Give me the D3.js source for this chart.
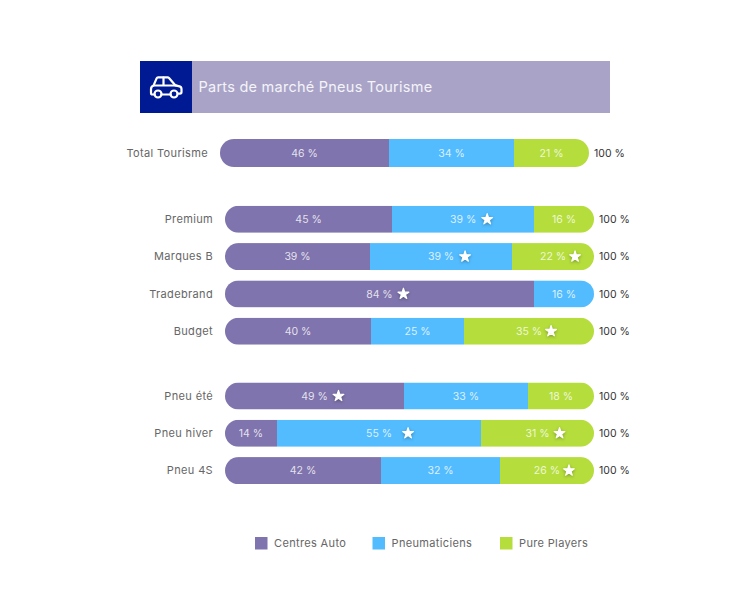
<!DOCTYPE html>
<html>
<head>
<meta charset="utf-8">
<script src="https://cdn.jsdelivr.net/npm/d3@7"></script>
<style>
  body { margin: 0; background: #fff; }
  svg { display: block; }
  text { font-family: Inter, "Open Sans", sans-serif; }
  .star { filter: drop-shadow(0 1px 1.5px rgba(0,0,0,.3)); }
</style>
</head>
<body>
<svg class="chart" width="729" height="590"></svg>
<script>
// values
var titleText = "Parts de marché Pneus Tourisme"
var seriesNames = ["Centres Auto", "Pneumaticiens", "Pure Players"]
var seriesColors = ["#7f74ad", "#52bcff", "#b5dd3c"]

var categories = ["Total Tourisme", "Premium", "Marques B", "Tradebrand", "Budget", "Pneu été", "Pneu hiver", "Pneu 4S"]
var groupOf = [0, 1, 1, 1, 1, 2, 2, 2]

// segment widths as drawn
var centresAuto = [45.8, 45.3, 39.3, 83.7, 39.6, 48.5, 14.1, 42.3]
var pneumaticiens = [33.9, 38.5, 38.5, 16.3, 25.2, 33.6, 55.3, 32.2]
var purePlayers = [20.3, 16.2, 22.2, 0, 35.2, 17.9, 30.6, 25.5]

// printed labels, they do not always round the same way as the widths
var centresLabels = ["46 %", "45 %", "39 %", "84 %", "40 %", "49 %", "14 %", "42 %"]
var pneuLabels = ["34 %", "39 %", "39 %", "16 %", "25 %", "33 %", "55 %", "32 %"]
var pureLabels = ["21 %", "16 %", "22 %", "", "35 %", "18 %", "31 %", "26 %"]
var totalLabels = ["100 %", "100 %", "100 %", "100 %", "100 %", "100 %", "100 %", "100 %"]

// which segments carry a star
var centresStars = ["Tradebrand", "Pneu été"]
var pneuStars = ["Premium", "Marques B", "Pneu hiver"]
var pureStars = ["Marques B", "Budget", "Pneu hiver", "Pneu 4S"]

var svg = d3.select(".chart")

var x = d3.scaleLinear().domain([0, 100]).range([225, 594])
var groupY = d3.scaleOrdinal().domain([0, 1, 2]).range([153, 219.3, 396])
var rowStep = 37.3
var barH = 27

var rows = categories.map((name, i) => {
    var vals = [centresAuto[i], pneumaticiens[i], purePlayers[i]]
    return {
        name: name,
        index: i,
        shift: groupOf[i] == 0 ? -5 : 0, // total row sits a bit more to the left
        h: groupOf[i] == 0 ? barH + 1 : barH,
        cy: groupY(groupOf[i]) + categories.slice(0, i).filter((c, j) => groupOf[j] == groupOf[i]).length * rowStep,
        vals: vals,
        total: totalLabels[i],
        labels: [centresLabels[i], pneuLabels[i], pureLabels[i]],
        stars: [centresStars, pneuStars, pureStars].map(s => s.includes(name))
    }
})

drawHeader()
drawRows()
drawLegend()

function drawHeader() {
    var head = svg.append("g")
    head.append("rect").attr("x", 140).attr("y", 61).attr("width", 470).attr("height", 52).attr("fill", "#a9a4c7")
    head.append("rect").attr("x", 140).attr("y", 61).attr("width", 52).attr("height", 52).attr("fill", "#001a94")
    head.append("text")
        .attr("x", 198.5).attr("y", 92)
        .attr("font-size", 14.5)
        .attr("letter-spacing", 0.25)
        .attr("fill", "#f4f3f9")
        .text(titleText)

    // car icon
    var car = head.append("g")
        .attr("fill", "none").attr("stroke", "#fff").attr("stroke-width", 2.2)
        .attr("stroke-linejoin", "round").attr("stroke-linecap", "round")
    car.append("path").attr("d", "M154.5 94.5h-2c-1 0-1.5-.7-1.5-1.5v-4c0-2 1.2-3 2.6-3.6l3-7c.3-.7.8-1 1.5-1h9.5c.6 0 1 .2 1.4.6l6.5 7.4 4 1c1.3.4 2 1.3 2 2.7v3c0 .9-.6 1.5-1.5 1.5h-1.5")
    car.append("path").attr("d", "M161.5 94.5h9M154 85.5h22.5M163.5 77.5v8")
    car.append("circle").attr("cx", 158).attr("cy", 94).attr("r", 3.5)
    car.append("circle").attr("cx", 174).attr("cy", 94).attr("r", 3.5)
}

function drawRows() {
    var defs = svg.append("defs")

    rows.forEach(r => {
        defs.append("clipPath").attr("id", "clip" + r.index)
            .append("rect")
            .attr("x", x(0) + r.shift)
            .attr("y", r.cy - r.h / 2)
            .attr("width", x(100) - x(0))
            .attr("height", r.h)
            .attr("rx", r.h / 2)
    })

    var row = svg.selectAll(".row")
        .data(rows)
        .enter()
        .append("g")
        .attr("class", "row")

    // category name
    row.append("text")
        .attr("x", d => x(0) + d.shift - 12)
        .attr("y", d => d.cy)
        .attr("dy", "0.35em")
        .attr("text-anchor", "end")
        .attr("font-size", 11)
        .attr("letter-spacing", 0.35)
        .attr("fill", "#666")
        .text(d => d.name)

    // 100 %
    row.append("text")
        .attr("x", d => x(100) + d.shift + 5)
        .attr("y", d => d.cy)
        .attr("dy", "0.35em")
        .attr("font-size", 10.5)
        .attr("fill", "#333")
        .text(d => d.total)

    row.each(function (d) {
        var g = d3.select(this)
        var start = 0
        var segs = d.vals.map((v, k) => {
            var s = { row: d, k: k, from: start, to: start + v, label: d.labels[k], star: d.stars[k] }
            start += v
            return s
        }).filter(s => s.to > s.from)

        g.append("g")
            .attr("clip-path", "url(#clip" + d.index + ")")
            .selectAll("rect")
            .data(segs)
            .enter()
            .append("rect")
            .attr("x", s => Math.round(x(s.from)) + d.shift)
            .attr("y", d.cy - d.h / 2)
            .attr("width", s => Math.round(x(s.to)) - Math.round(x(s.from)))
            .attr("height", d.h)
            .attr("fill", s => seriesColors[s.k])

        g.selectAll(".val")
            .data(segs)
            .enter()
            .append("text")
            .attr("class", "val")
            .attr("x", s => (x(s.from) + x(s.to)) / 2 + d.shift)
            .attr("y", d.cy)
            .attr("dy", "0.35em")
            .attr("text-anchor", "middle")
            .attr("font-size", 10.5)
            .attr("fill", "#fff")
            .attr("fill-opacity", 0.8)
            .text(s => s.label)

        g.selectAll(".star")
            .data(segs.filter(s => s.star))
            .enter()
            .append("path")
            .attr("class", "star")
            .attr("d", d3.symbol(d3.symbolStar, 36))
            .attr("transform", s => `translate(${(x(s.from) + x(s.to)) / 2 + d.shift + starOffset(s)}, ${d.cy})`)
            .attr("fill", "#fff")
            .attr("stroke", "#fff")
            .attr("stroke-width", 1.2)
            .attr("stroke-linejoin", "round")
    })
}

// star distance from the label is not quite constant in the original
function starOffset(s) {
    if (s.label == "55 %") return 29
    if (s.k == 2) return 22
    return 24
}

function drawLegend() {
    var lx = d3.scaleOrdinal().domain(seriesNames).range([255, 372.5, 500])
    var item = svg.selectAll(".legend")
        .data(seriesNames)
        .enter()
        .append("g")
        .attr("class", "legend")

    item.append("rect")
        .attr("x", d => lx(d))
        .attr("y", 537)
        .attr("width", 12.5)
        .attr("height", 12.5)
        .attr("fill", (d, i) => seriesColors[i])

    item.append("text")
        .attr("x", d => lx(d) + 19)
        .attr("y", 543)
        .attr("dy", "0.35em")
        .attr("font-size", 11)
        .attr("letter-spacing", 0.35)
        .attr("fill", "#666")
        .text(d => d)
}
</script>
</body>
</html>
